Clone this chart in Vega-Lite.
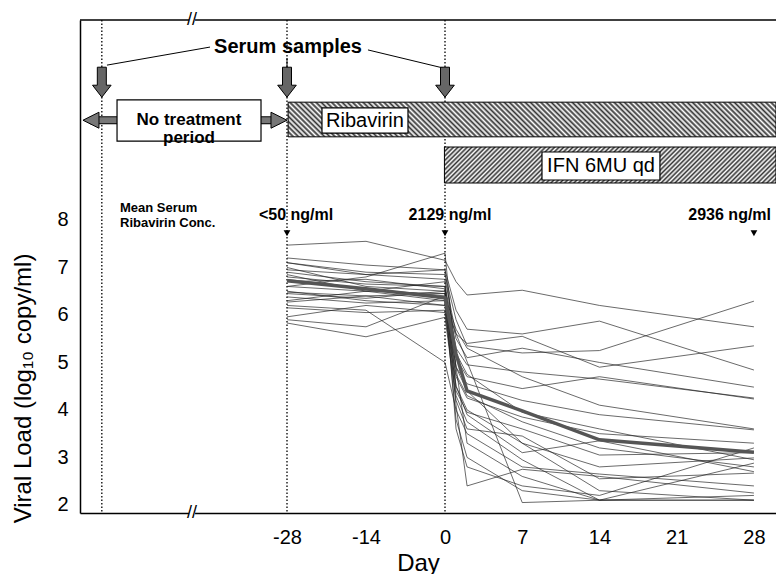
{
"$schema": "https://vega.github.io/schema/vega-lite/v6.json",
"width": 696, "height": 493,
"autosize": {"type": "none"},
"padding": {"left": 80, "top": 20, "right": 0, "bottom": 61},
"background": "white",
"config": {"view": {"stroke": null}, "font": "Liberation Sans", "axis": {"grid": false}},
"data": {"values": [{}]},
"datasets": {
"patients": [
{"p":1,"d":-28,"v":7.47},{"p":1,"d":-14,"v":7.55},{"p":1,"d":0,"v":7.15},{"p":1,"d":1,"v":6.7},{"p":1,"d":2,"v":6.42},{"p":1,"d":7,"v":6.52},{"p":1,"d":14,"v":6.2},{"p":1,"d":28,"v":5.75},
{"p":2,"d":-28,"v":7.2},{"p":2,"d":-14,"v":7.05},{"p":2,"d":0,"v":6.95},{"p":2,"d":1,"v":6.1},{"p":2,"d":2,"v":5.7},{"p":2,"d":7,"v":5.6},{"p":2,"d":14,"v":5.87},{"p":2,"d":28,"v":4.84},
{"p":3,"d":-28,"v":7.1},{"p":3,"d":-14,"v":6.9},{"p":3,"d":0,"v":6.85},{"p":3,"d":1,"v":5.9},{"p":3,"d":2,"v":5.35},{"p":3,"d":7,"v":5.2},{"p":3,"d":14,"v":5.25},{"p":3,"d":28,"v":6.29},
{"p":4,"d":-28,"v":6.95},{"p":4,"d":-14,"v":6.85},{"p":4,"d":0,"v":6.75},{"p":4,"d":1,"v":5.6},{"p":4,"d":2,"v":5.4},{"p":4,"d":7,"v":5.55},{"p":4,"d":14,"v":4.9},{"p":4,"d":28,"v":5.35},
{"p":5,"d":-28,"v":6.8},{"p":5,"d":-14,"v":6.65},{"p":5,"d":0,"v":6.6},{"p":5,"d":1,"v":5.5},{"p":5,"d":2,"v":5.1},{"p":5,"d":7,"v":5.3},{"p":5,"d":14,"v":5.0},{"p":5,"d":28,"v":4.48},
{"p":6,"d":-28,"v":6.7},{"p":6,"d":-14,"v":6.75},{"p":6,"d":0,"v":6.55},{"p":6,"d":1,"v":5.3},{"p":6,"d":2,"v":4.95},{"p":6,"d":7,"v":4.8},{"p":6,"d":14,"v":4.65},{"p":6,"d":28,"v":4.25},
{"p":7,"d":-28,"v":6.48},{"p":7,"d":-14,"v":6.4},{"p":7,"d":0,"v":6.45},{"p":7,"d":1,"v":5.1},{"p":7,"d":2,"v":4.7},{"p":7,"d":7,"v":4.45},{"p":7,"d":14,"v":4.7},{"p":7,"d":28,"v":4.23},
{"p":8,"d":-28,"v":6.38},{"p":8,"d":-14,"v":6.25},{"p":8,"d":0,"v":6.3},{"p":8,"d":1,"v":4.9},{"p":8,"d":2,"v":4.55},{"p":8,"d":7,"v":4.2},{"p":8,"d":14,"v":3.9},{"p":8,"d":28,"v":3.58},
{"p":9,"d":-28,"v":6.27},{"p":9,"d":-14,"v":6.4},{"p":9,"d":0,"v":6.2},{"p":9,"d":1,"v":4.7},{"p":9,"d":2,"v":4.25},{"p":9,"d":7,"v":3.85},{"p":9,"d":14,"v":3.5},{"p":9,"d":28,"v":3.3},
{"p":10,"d":-28,"v":6.15},{"p":10,"d":-14,"v":6.05},{"p":10,"d":0,"v":6.1},{"p":10,"d":1,"v":4.5},{"p":10,"d":2,"v":4.0},{"p":10,"d":7,"v":3.3},{"p":10,"d":14,"v":2.8},{"p":10,"d":28,"v":2.99},
{"p":11,"d":-28,"v":5.96},{"p":11,"d":-14,"v":6.2},{"p":11,"d":0,"v":6.05},{"p":11,"d":1,"v":4.3},{"p":11,"d":2,"v":3.75},{"p":11,"d":7,"v":2.95},{"p":11,"d":14,"v":2.1},{"p":11,"d":28,"v":2.88},
{"p":12,"d":-28,"v":5.83},{"p":12,"d":-14,"v":5.54},{"p":12,"d":0,"v":5.95},{"p":12,"d":1,"v":4.2},{"p":12,"d":2,"v":3.6},{"p":12,"d":7,"v":3.45},{"p":12,"d":14,"v":2.55},{"p":12,"d":28,"v":2.67},
{"p":13,"d":-28,"v":7.0},{"p":13,"d":-14,"v":6.6},{"p":13,"d":0,"v":6.5},{"p":13,"d":2,"v":3.3},{"p":13,"d":7,"v":2.6},{"p":13,"d":14,"v":2.1},{"p":13,"d":28,"v":2.1},
{"p":14,"d":-28,"v":6.6},{"p":14,"d":-14,"v":6.5},{"p":14,"d":0,"v":6.3},{"p":14,"d":1,"v":3.8},{"p":14,"d":2,"v":3.0},{"p":14,"d":7,"v":2.3},{"p":14,"d":14,"v":2.1},{"p":14,"d":28,"v":2.2},
{"p":15,"d":-28,"v":6.9},{"p":15,"d":-14,"v":6.7},{"p":15,"d":0,"v":6.6},{"p":15,"d":1,"v":4.1},{"p":15,"d":2,"v":2.4},{"p":15,"d":7,"v":2.75},{"p":15,"d":14,"v":2.6},{"p":15,"d":28,"v":2.25},
{"p":16,"d":-28,"v":6.5},{"p":16,"d":-14,"v":6.3},{"p":16,"d":0,"v":6.2},{"p":16,"d":7,"v":2.05},{"p":16,"d":14,"v":2.1},{"p":16,"d":28,"v":2.1},
{"p":17,"d":-28,"v":6.3},{"p":17,"d":-14,"v":6.5},{"p":17,"d":0,"v":6.45},{"p":17,"d":1,"v":4.4},{"p":17,"d":2,"v":3.95},{"p":17,"d":7,"v":3.6},{"p":17,"d":14,"v":3.05},{"p":17,"d":28,"v":3.1},
{"p":18,"d":-28,"v":6.75},{"p":18,"d":-14,"v":6.55},{"p":18,"d":0,"v":6.4},{"p":18,"d":1,"v":4.75},{"p":18,"d":2,"v":4.3},{"p":18,"d":7,"v":3.75},{"p":18,"d":14,"v":3.2},{"p":18,"d":28,"v":2.8},
{"p":19,"d":-28,"v":6.2},{"p":19,"d":-14,"v":6.1},{"p":19,"d":0,"v":5.0},{"p":19,"d":1,"v":4.0},{"p":19,"d":2,"v":3.5},{"p":19,"d":7,"v":2.8},{"p":19,"d":14,"v":2.65},{"p":19,"d":28,"v":2.4},
{"p":20,"d":-28,"v":5.9},{"p":20,"d":-14,"v":5.75},{"p":20,"d":0,"v":6.4},{"p":20,"d":1,"v":5.7},{"p":20,"d":2,"v":5.3},{"p":20,"d":7,"v":4.7},{"p":20,"d":14,"v":4.1},{"p":20,"d":28,"v":3.6},
{"p":21,"d":-28,"v":6.6},{"p":21,"d":-14,"v":6.8},{"p":21,"d":0,"v":7.3},{"p":21,"d":1,"v":4.9},{"p":21,"d":2,"v":4.4},{"p":21,"d":7,"v":3.3},{"p":21,"d":14,"v":2.3},{"p":21,"d":28,"v":2.1},
{"p":22,"d":-28,"v":7.1},{"p":22,"d":-14,"v":6.85},{"p":22,"d":0,"v":6.95},{"p":22,"d":1,"v":5.2},{"p":22,"d":2,"v":4.75},{"p":22,"d":7,"v":3.95},{"p":22,"d":14,"v":3.6},{"p":22,"d":28,"v":2.95},
{"p":23,"d":-28,"v":6.45},{"p":23,"d":-14,"v":6.35},{"p":23,"d":0,"v":6.5},{"p":23,"d":1,"v":3.6},{"p":23,"d":2,"v":2.8},{"p":23,"d":7,"v":2.4},{"p":23,"d":14,"v":2.2},{"p":23,"d":28,"v":3.2},
{"p":24,"d":-28,"v":6.85},{"p":24,"d":-14,"v":6.5},{"p":24,"d":0,"v":6.7},{"p":24,"d":1,"v":4.5},{"p":24,"d":2,"v":3.9},{"p":24,"d":7,"v":3.1},{"p":24,"d":14,"v":3.35},{"p":24,"d":28,"v":2.7}
],
"mean": [
{"d":-28,"v":6.72},{"d":-14,"v":6.55},{"d":0,"v":6.36},{"d":1,"v":5.18},{"d":2,"v":4.4},{"d":7,"v":3.98},{"d":14,"v":3.37},{"d":28,"v":3.11}
]
},
"layer": [
{"data": {"values": [{"d":-56},{"d":-28},{"d":0}]},
 "mark": {"type":"rule","color":"#000","strokeWidth":1.3,"strokeDash":[1.5,2]},
 "encoding": {"x": {"field":"d","type":"quantitative"}}},
{"mark": {"type":"rule","color":"#000","strokeWidth":1.5},
 "encoding": {"y": {"datum": 12.21}}},
{"mark": {"type":"rect","stroke":"#000","strokeWidth":1,
  "fill": {"gradient":"linear","x1":0,"y1":1,"x2":1.06624,"y2":0.92353,"stops":[
{"offset":0,"color":"#333"},{"offset":0.005,"color":"#fff"},{"offset":0.01,"color":"#333"},{"offset":0.015,"color":"#fff"},{"offset":0.02,"color":"#333"},{"offset":0.025,"color":"#fff"},{"offset":0.03,"color":"#333"},{"offset":0.035,"color":"#fff"},{"offset":0.04,"color":"#333"},{"offset":0.045,"color":"#fff"},
{"offset":0.05,"color":"#333"},{"offset":0.055,"color":"#fff"},{"offset":0.06,"color":"#333"},{"offset":0.065,"color":"#fff"},{"offset":0.07,"color":"#333"},{"offset":0.075,"color":"#fff"},{"offset":0.08,"color":"#333"},{"offset":0.085,"color":"#fff"},{"offset":0.09,"color":"#333"},{"offset":0.095,"color":"#fff"},
{"offset":0.1,"color":"#333"},{"offset":0.105,"color":"#fff"},{"offset":0.11,"color":"#333"},{"offset":0.115,"color":"#fff"},{"offset":0.12,"color":"#333"},{"offset":0.125,"color":"#fff"},{"offset":0.13,"color":"#333"},{"offset":0.135,"color":"#fff"},{"offset":0.14,"color":"#333"},{"offset":0.145,"color":"#fff"},
{"offset":0.15,"color":"#333"},{"offset":0.155,"color":"#fff"},{"offset":0.16,"color":"#333"},{"offset":0.165,"color":"#fff"},{"offset":0.17,"color":"#333"},{"offset":0.175,"color":"#fff"},{"offset":0.18,"color":"#333"},{"offset":0.185,"color":"#fff"},{"offset":0.19,"color":"#333"},{"offset":0.195,"color":"#fff"},
{"offset":0.2,"color":"#333"},{"offset":0.205,"color":"#fff"},{"offset":0.21,"color":"#333"},{"offset":0.215,"color":"#fff"},{"offset":0.22,"color":"#333"},{"offset":0.225,"color":"#fff"},{"offset":0.23,"color":"#333"},{"offset":0.235,"color":"#fff"},{"offset":0.24,"color":"#333"},{"offset":0.245,"color":"#fff"},
{"offset":0.25,"color":"#333"},{"offset":0.255,"color":"#fff"},{"offset":0.26,"color":"#333"},{"offset":0.265,"color":"#fff"},{"offset":0.27,"color":"#333"},{"offset":0.275,"color":"#fff"},{"offset":0.28,"color":"#333"},{"offset":0.285,"color":"#fff"},{"offset":0.29,"color":"#333"},{"offset":0.295,"color":"#fff"},
{"offset":0.3,"color":"#333"},{"offset":0.305,"color":"#fff"},{"offset":0.31,"color":"#333"},{"offset":0.315,"color":"#fff"},{"offset":0.32,"color":"#333"},{"offset":0.325,"color":"#fff"},{"offset":0.33,"color":"#333"},{"offset":0.335,"color":"#fff"},{"offset":0.34,"color":"#333"},{"offset":0.345,"color":"#fff"},
{"offset":0.35,"color":"#333"},{"offset":0.355,"color":"#fff"},{"offset":0.36,"color":"#333"},{"offset":0.365,"color":"#fff"},{"offset":0.37,"color":"#333"},{"offset":0.375,"color":"#fff"},{"offset":0.38,"color":"#333"},{"offset":0.385,"color":"#fff"},{"offset":0.39,"color":"#333"},{"offset":0.395,"color":"#fff"},
{"offset":0.4,"color":"#333"},{"offset":0.405,"color":"#fff"},{"offset":0.41,"color":"#333"},{"offset":0.415,"color":"#fff"},{"offset":0.42,"color":"#333"},{"offset":0.425,"color":"#fff"},{"offset":0.43,"color":"#333"},{"offset":0.435,"color":"#fff"},{"offset":0.44,"color":"#333"},{"offset":0.445,"color":"#fff"},
{"offset":0.45,"color":"#333"},{"offset":0.455,"color":"#fff"},{"offset":0.46,"color":"#333"},{"offset":0.465,"color":"#fff"},{"offset":0.47,"color":"#333"},{"offset":0.475,"color":"#fff"},{"offset":0.48,"color":"#333"},{"offset":0.485,"color":"#fff"},{"offset":0.49,"color":"#333"},{"offset":0.495,"color":"#fff"},
{"offset":0.5,"color":"#333"},{"offset":0.505,"color":"#fff"},{"offset":0.51,"color":"#333"},{"offset":0.515,"color":"#fff"},{"offset":0.52,"color":"#333"},{"offset":0.525,"color":"#fff"},{"offset":0.53,"color":"#333"},{"offset":0.535,"color":"#fff"},{"offset":0.54,"color":"#333"},{"offset":0.545,"color":"#fff"},
{"offset":0.55,"color":"#333"},{"offset":0.555,"color":"#fff"},{"offset":0.56,"color":"#333"},{"offset":0.565,"color":"#fff"},{"offset":0.57,"color":"#333"},{"offset":0.575,"color":"#fff"},{"offset":0.58,"color":"#333"},{"offset":0.585,"color":"#fff"},{"offset":0.59,"color":"#333"},{"offset":0.595,"color":"#fff"},
{"offset":0.6,"color":"#333"},{"offset":0.605,"color":"#fff"},{"offset":0.61,"color":"#333"},{"offset":0.615,"color":"#fff"},{"offset":0.62,"color":"#333"},{"offset":0.625,"color":"#fff"},{"offset":0.63,"color":"#333"},{"offset":0.635,"color":"#fff"},{"offset":0.64,"color":"#333"},{"offset":0.645,"color":"#fff"},
{"offset":0.65,"color":"#333"},{"offset":0.655,"color":"#fff"},{"offset":0.66,"color":"#333"},{"offset":0.665,"color":"#fff"},{"offset":0.67,"color":"#333"},{"offset":0.675,"color":"#fff"},{"offset":0.68,"color":"#333"},{"offset":0.685,"color":"#fff"},{"offset":0.69,"color":"#333"},{"offset":0.695,"color":"#fff"},
{"offset":0.7,"color":"#333"},{"offset":0.705,"color":"#fff"},{"offset":0.71,"color":"#333"},{"offset":0.715,"color":"#fff"},{"offset":0.72,"color":"#333"},{"offset":0.725,"color":"#fff"},{"offset":0.73,"color":"#333"},{"offset":0.735,"color":"#fff"},{"offset":0.74,"color":"#333"},{"offset":0.745,"color":"#fff"},
{"offset":0.75,"color":"#333"},{"offset":0.755,"color":"#fff"},{"offset":0.76,"color":"#333"},{"offset":0.765,"color":"#fff"},{"offset":0.77,"color":"#333"},{"offset":0.775,"color":"#fff"},{"offset":0.78,"color":"#333"},{"offset":0.785,"color":"#fff"},{"offset":0.79,"color":"#333"},{"offset":0.795,"color":"#fff"},
{"offset":0.8,"color":"#333"},{"offset":0.805,"color":"#fff"},{"offset":0.81,"color":"#333"},{"offset":0.815,"color":"#fff"},{"offset":0.82,"color":"#333"},{"offset":0.825,"color":"#fff"},{"offset":0.83,"color":"#333"},{"offset":0.835,"color":"#fff"},{"offset":0.84,"color":"#333"},{"offset":0.845,"color":"#fff"},
{"offset":0.85,"color":"#333"},{"offset":0.855,"color":"#fff"},{"offset":0.86,"color":"#333"},{"offset":0.865,"color":"#fff"},{"offset":0.87,"color":"#333"},{"offset":0.875,"color":"#fff"},{"offset":0.88,"color":"#333"},{"offset":0.885,"color":"#fff"},{"offset":0.89,"color":"#333"},{"offset":0.895,"color":"#fff"},
{"offset":0.9,"color":"#333"},{"offset":0.905,"color":"#fff"},{"offset":0.91,"color":"#333"},{"offset":0.915,"color":"#fff"},{"offset":0.92,"color":"#333"},{"offset":0.925,"color":"#fff"},{"offset":0.93,"color":"#333"},{"offset":0.935,"color":"#fff"},{"offset":0.94,"color":"#333"},{"offset":0.945,"color":"#fff"},
{"offset":0.95,"color":"#333"},{"offset":0.955,"color":"#fff"},{"offset":0.96,"color":"#333"},{"offset":0.965,"color":"#fff"},{"offset":0.97,"color":"#333"},{"offset":0.975,"color":"#fff"},{"offset":0.98,"color":"#333"},{"offset":0.985,"color":"#fff"},{"offset":0.99,"color":"#333"},{"offset":0.995,"color":"#fff"},
{"offset":1,"color":"#333"}]}},
 "encoding": {"x": {"datum": -27.8}, "x2": {"datum": 30}, "y": {"datum": 9.75}, "y2": {"datum": 10.48}}},
{"mark": {"type":"rect","stroke":"#000","strokeWidth":1,
  "fill": {"gradient":"linear","x1":0,"y1":0,"x2":1.0958,"y2":0.11918,"stops":[
{"offset":0,"color":"#333"},{"offset":0.00625,"color":"#fff"},{"offset":0.0125,"color":"#333"},{"offset":0.01875,"color":"#fff"},{"offset":0.025,"color":"#333"},{"offset":0.03125,"color":"#fff"},{"offset":0.0375,"color":"#333"},{"offset":0.04375,"color":"#fff"},
{"offset":0.05,"color":"#333"},{"offset":0.05625,"color":"#fff"},{"offset":0.0625,"color":"#333"},{"offset":0.06875,"color":"#fff"},{"offset":0.075,"color":"#333"},{"offset":0.08125,"color":"#fff"},{"offset":0.0875,"color":"#333"},{"offset":0.09375,"color":"#fff"},
{"offset":0.1,"color":"#333"},{"offset":0.10625,"color":"#fff"},{"offset":0.1125,"color":"#333"},{"offset":0.11875,"color":"#fff"},{"offset":0.125,"color":"#333"},{"offset":0.13125,"color":"#fff"},{"offset":0.1375,"color":"#333"},{"offset":0.14375,"color":"#fff"},
{"offset":0.15,"color":"#333"},{"offset":0.15625,"color":"#fff"},{"offset":0.1625,"color":"#333"},{"offset":0.16875,"color":"#fff"},{"offset":0.175,"color":"#333"},{"offset":0.18125,"color":"#fff"},{"offset":0.1875,"color":"#333"},{"offset":0.19375,"color":"#fff"},
{"offset":0.2,"color":"#333"},{"offset":0.20625,"color":"#fff"},{"offset":0.2125,"color":"#333"},{"offset":0.21875,"color":"#fff"},{"offset":0.225,"color":"#333"},{"offset":0.23125,"color":"#fff"},{"offset":0.2375,"color":"#333"},{"offset":0.24375,"color":"#fff"},
{"offset":0.25,"color":"#333"},{"offset":0.25625,"color":"#fff"},{"offset":0.2625,"color":"#333"},{"offset":0.26875,"color":"#fff"},{"offset":0.275,"color":"#333"},{"offset":0.28125,"color":"#fff"},{"offset":0.2875,"color":"#333"},{"offset":0.29375,"color":"#fff"},
{"offset":0.3,"color":"#333"},{"offset":0.30625,"color":"#fff"},{"offset":0.3125,"color":"#333"},{"offset":0.31875,"color":"#fff"},{"offset":0.325,"color":"#333"},{"offset":0.33125,"color":"#fff"},{"offset":0.3375,"color":"#333"},{"offset":0.34375,"color":"#fff"},
{"offset":0.35,"color":"#333"},{"offset":0.35625,"color":"#fff"},{"offset":0.3625,"color":"#333"},{"offset":0.36875,"color":"#fff"},{"offset":0.375,"color":"#333"},{"offset":0.38125,"color":"#fff"},{"offset":0.3875,"color":"#333"},{"offset":0.39375,"color":"#fff"},
{"offset":0.4,"color":"#333"},{"offset":0.40625,"color":"#fff"},{"offset":0.4125,"color":"#333"},{"offset":0.41875,"color":"#fff"},{"offset":0.425,"color":"#333"},{"offset":0.43125,"color":"#fff"},{"offset":0.4375,"color":"#333"},{"offset":0.44375,"color":"#fff"},
{"offset":0.45,"color":"#333"},{"offset":0.45625,"color":"#fff"},{"offset":0.4625,"color":"#333"},{"offset":0.46875,"color":"#fff"},{"offset":0.475,"color":"#333"},{"offset":0.48125,"color":"#fff"},{"offset":0.4875,"color":"#333"},{"offset":0.49375,"color":"#fff"},
{"offset":0.5,"color":"#333"},{"offset":0.50625,"color":"#fff"},{"offset":0.5125,"color":"#333"},{"offset":0.51875,"color":"#fff"},{"offset":0.525,"color":"#333"},{"offset":0.53125,"color":"#fff"},{"offset":0.5375,"color":"#333"},{"offset":0.54375,"color":"#fff"},
{"offset":0.55,"color":"#333"},{"offset":0.55625,"color":"#fff"},{"offset":0.5625,"color":"#333"},{"offset":0.56875,"color":"#fff"},{"offset":0.575,"color":"#333"},{"offset":0.58125,"color":"#fff"},{"offset":0.5875,"color":"#333"},{"offset":0.59375,"color":"#fff"},
{"offset":0.6,"color":"#333"},{"offset":0.60625,"color":"#fff"},{"offset":0.6125,"color":"#333"},{"offset":0.61875,"color":"#fff"},{"offset":0.625,"color":"#333"},{"offset":0.63125,"color":"#fff"},{"offset":0.6375,"color":"#333"},{"offset":0.64375,"color":"#fff"},
{"offset":0.65,"color":"#333"},{"offset":0.65625,"color":"#fff"},{"offset":0.6625,"color":"#333"},{"offset":0.66875,"color":"#fff"},{"offset":0.675,"color":"#333"},{"offset":0.68125,"color":"#fff"},{"offset":0.6875,"color":"#333"},{"offset":0.69375,"color":"#fff"},
{"offset":0.7,"color":"#333"},{"offset":0.70625,"color":"#fff"},{"offset":0.7125,"color":"#333"},{"offset":0.71875,"color":"#fff"},{"offset":0.725,"color":"#333"},{"offset":0.73125,"color":"#fff"},{"offset":0.7375,"color":"#333"},{"offset":0.74375,"color":"#fff"},
{"offset":0.75,"color":"#333"},{"offset":0.75625,"color":"#fff"},{"offset":0.7625,"color":"#333"},{"offset":0.76875,"color":"#fff"},{"offset":0.775,"color":"#333"},{"offset":0.78125,"color":"#fff"},{"offset":0.7875,"color":"#333"},{"offset":0.79375,"color":"#fff"},
{"offset":0.8,"color":"#333"},{"offset":0.80625,"color":"#fff"},{"offset":0.8125,"color":"#333"},{"offset":0.81875,"color":"#fff"},{"offset":0.825,"color":"#333"},{"offset":0.83125,"color":"#fff"},{"offset":0.8375,"color":"#333"},{"offset":0.84375,"color":"#fff"},
{"offset":0.85,"color":"#333"},{"offset":0.85625,"color":"#fff"},{"offset":0.8625,"color":"#333"},{"offset":0.86875,"color":"#fff"},{"offset":0.875,"color":"#333"},{"offset":0.88125,"color":"#fff"},{"offset":0.8875,"color":"#333"},{"offset":0.89375,"color":"#fff"},
{"offset":0.9,"color":"#333"},{"offset":0.90625,"color":"#fff"},{"offset":0.9125,"color":"#333"},{"offset":0.91875,"color":"#fff"},{"offset":0.925,"color":"#333"},{"offset":0.93125,"color":"#fff"},{"offset":0.9375,"color":"#333"},{"offset":0.94375,"color":"#fff"},
{"offset":0.95,"color":"#333"},{"offset":0.95625,"color":"#fff"},{"offset":0.9625,"color":"#333"},{"offset":0.96875,"color":"#fff"},{"offset":0.975,"color":"#333"},{"offset":0.98125,"color":"#fff"},{"offset":0.9875,"color":"#333"},{"offset":0.99375,"color":"#fff"},
{"offset":1,"color":"#333"}]}},
 "encoding": {"x": {"datum": -0.1}, "x2": {"datum": 30}, "y": {"datum": 8.778}, "y2": {"datum": 9.536}}},
{"mark": {"type":"rule","color":"#000","strokeWidth":8},
 "encoding": {"x": {"datum": -57.8}, "x2": {"datum": -29.1}, "y": {"datum": 10.1}}},
{"mark": {"type":"rule","color":"#777","strokeWidth":6},
 "encoding": {"x": {"datum": -57.8}, "x2": {"datum": -29.1}, "y": {"datum": 10.1}}},
{"mark": {"type":"point","filled":true,"fill":"#777","stroke":"#000","strokeWidth":1,"opacity":1,"size":256,"shape":"M1,-1L1,1L-1,0Z"},
 "encoding": {"x": {"datum": -57.64}, "y": {"datum": 10.1}}},
{"mark": {"type":"point","filled":true,"fill":"#777","stroke":"#000","strokeWidth":1,"opacity":1,"size":256,"shape":"M-1,-1L-1,1L1,0Z"},
 "encoding": {"x": {"datum": -29.21}, "y": {"datum": 10.1}}},
{"mark": {"type":"rect","fill":"#fff","stroke":"#000","strokeWidth":1.2},
 "encoding": {"x": {"datum": -53.7}, "x2": {"datum": -31.93}, "y": {"datum": 9.66}, "y2": {"datum": 10.53}}},
{"mark": {"type":"rect","fill":"#fff","stroke":"#000","strokeWidth":1.2},
 "encoding": {"x": {"datum": -21.8}, "x2": {"datum": -6.56}, "y": {"datum": 9.83}, "y2": {"datum": 10.36}}},
{"mark": {"type":"rect","fill":"#fff","stroke":"#000","strokeWidth":1.2},
 "encoding": {"x": {"datum": 8.79}, "x2": {"datum": 19.48}, "y": {"datum": 8.841}, "y2": {"datum": 9.431}}},
{"mark": {"type":"text","text":["No treatment","period"],"font":"Liberation Sans","fontSize":17,"fontWeight":"bold","lineHeight":18,"color":"#000","align":"center","baseline":"middle"},
 "encoding": {"x": {"datum": -42.82}, "y": {"datum": 10.1}}},
{"mark": {"type":"text","text":"Ribavirin","font":"Liberation Sans","fontSize":20,"color":"#000","align":"center","baseline":"middle"},
 "encoding": {"x": {"datum": -14.18}, "y": {"datum": 10.09}}},
{"mark": {"type":"text","text":"IFN 6MU qd","font":"Liberation Sans","fontSize":20,"color":"#000","align":"center","baseline":"middle"},
 "encoding": {"x": {"datum": 14.14}, "y": {"datum": 9.136}}},
{"mark": {"type":"text","text":"Serum samples","font":"Liberation Sans","fontSize":20,"fontWeight":"bold","color":"#000","align":"center","baseline":"middle"},
 "encoding": {"x": {"datum": -27.82}, "y": {"datum": 11.64}}},
{"mark": {"type":"rule","color":"#000","strokeWidth":1},
 "encoding": {"x": {"datum": -39.64}, "x2": {"datum": -55.22}, "y": {"datum": 11.64}, "y2": {"datum": 11.26}}},
{"mark": {"type":"rule","color":"#000","strokeWidth":1},
 "encoding": {"x": {"datum": -28}, "x2": {"datum": -28}, "y": {"datum": 11.41}, "y2": {"datum": 11.2}}},
{"mark": {"type":"rule","color":"#000","strokeWidth":1},
 "encoding": {"x": {"datum": -13.65}, "x2": {"datum": -0.35}, "y": {"datum": 11.58}, "y2": {"datum": 11.2}}},
{"data": {"values": [{"d":-56},{"d":-28},{"d":0}]},
 "mark": {"type":"point","filled":true,"fill":"#666","stroke":"#000","strokeWidth":1,"opacity":1,"size":900,"shape":"M-0.3,-1L0.3,-1L0.3,0.2L0.62,0.2L0,1L-0.62,0.2L-0.3,0.2Z"},
 "encoding": {"x": {"field":"d","type":"quantitative"}, "y": {"datum": 10.9}}},
{"mark": {"type":"text","text":["Mean Serum","Ribavirin Conc."],"font":"Liberation Sans","fontSize":13,"fontWeight":"bold","lineHeight":15,"color":"#000","align":"left","baseline":"middle"},
 "encoding": {"x": {"datum": -53.25}, "y": {"datum": 8.25}}},
{"mark": {"type":"text","text":"<50 ng/ml","font":"Liberation Sans","fontSize":16,"fontWeight":"bold","color":"#000","align":"center","baseline":"middle"},
 "encoding": {"x": {"datum": -26.4}, "y": {"datum": 8.1}}},
{"mark": {"type":"text","text":"2129 ng/ml","font":"Liberation Sans","fontSize":16,"fontWeight":"bold","color":"#000","align":"center","baseline":"middle"},
 "encoding": {"x": {"datum": 0.45}, "y": {"datum": 8.1}}},
{"mark": {"type":"text","text":"2936 ng/ml","font":"Liberation Sans","fontSize":16,"fontWeight":"bold","color":"#000","align":"center","baseline":"middle"},
 "encoding": {"x": {"datum": 25.8}, "y": {"datum": 8.1}}},
{"data": {"values": [{"d":-28},{"d":0},{"d":28}]},
 "mark": {"type":"point","shape":"triangle-down","filled":true,"color":"#000","opacity":1,"size":45},
 "encoding": {"x": {"field":"d","type":"quantitative"}, "y": {"datum": 7.72}}},
{"data": {"name": "patients"},
 "mark": {"type":"line","color":"#222","strokeWidth":0.8,"opacity":0.85},
 "encoding": {
  "x": {"field":"d","type":"quantitative",
   "scale": {"domain":[-59.3,-28,0,30],"range":[0,207,365,696],"nice":false,"zero":false},
   "axis": {"values":[-28,-14,0,7,14,21,28],"labelExpr":"'' + datum.value","ticks":false,"domainColor":"#000","domainWidth":1.5,"labelFont":"Liberation Sans","labelFontSize":20,"labelColor":"#000","labelPadding":14,"labelFlush":false,"labelOverlap":false,
     "title":"Day","titleFont":"Liberation Sans","titleFontSize":24,"titleFontWeight":"normal","titleColor":"#000","titleX":338,"titleY":50,"titleAlign":"center","titleBaseline":"middle"}},
  "y": {"field":"v","type":"quantitative",
   "scale": {"domain":[1.83,12.21],"nice":false,"zero":false},
   "axis": {"values":[2,3,4,5,6,7,8],"ticks":false,"domainColor":"#000","domainWidth":1.5,"labelFont":"Liberation Sans","labelFontSize":20,"labelColor":"#000","labelPadding":12,
     "title":"Viral Load (log₁₀ copy/ml)","titleFont":"Liberation Sans","titleFontSize":24,"titleFontWeight":"normal","titleColor":"#000","titleX":-57,"titleY":368,"titleAngle":270,"titleAlign":"center","titleBaseline":"middle"}},
  "detail": {"field":"p","type":"nominal"}}},
{"data": {"name": "mean"},
 "mark": {"type":"line","color":"#555","strokeWidth":3.5},
 "encoding": {"x": {"field":"d","type":"quantitative"}, "y": {"field":"v","type":"quantitative"}}},
{"mark": {"type":"rect","fill":"#fff"},
 "encoding": {"x": {"datum": -42.8}, "x2": {"datum": -41.9}, "y": {"datum": 12.126}, "y2": {"datum": 12.29}}},
{"mark": {"type":"rect","fill":"#fff"},
 "encoding": {"x": {"datum": -42.8}, "x2": {"datum": -41.9}, "y": {"datum": 1.746}, "y2": {"datum": 1.914}}},
{"mark": {"type":"text","text":"//","font":"Liberation Sans","fontSize":18,"color":"#000","align":"center","baseline":"middle"},
 "encoding": {"x": {"datum": -42.37}, "y": {"datum": 12.21}}},
{"mark": {"type":"text","text":"//","font":"Liberation Sans","fontSize":18,"color":"#000","align":"center","baseline":"middle"},
 "encoding": {"x": {"datum": -42.37}, "y": {"datum": 1.83}}}
]
}
